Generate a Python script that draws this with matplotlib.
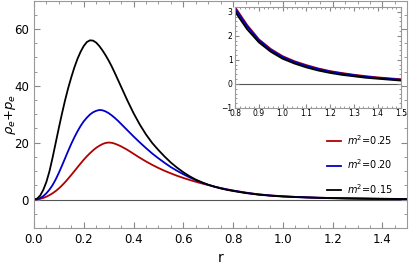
import matplotlib
matplotlib.use("Agg")
import matplotlib.pyplot as plt
from matplotlib.ticker import MultipleLocator

# values
r = [0.0, 0.0125, 0.025, 0.0375, 0.05, 0.0625, 0.075, 0.0875, 0.1, 0.1125,
     0.125, 0.1375, 0.15, 0.1625, 0.175, 0.1875, 0.2, 0.2125, 0.225, 0.2375,
     0.25, 0.2625, 0.275, 0.2875, 0.3, 0.3125, 0.325, 0.3375, 0.35,
     0.375, 0.4, 0.425, 0.45, 0.475, 0.5, 0.525, 0.55, 0.575, 0.6,
     0.625, 0.65, 0.675, 0.7, 0.725, 0.75, 0.775, 0.8,
     0.85, 0.9, 0.95, 1.0, 1.05, 1.1, 1.15, 1.2, 1.25, 1.3, 1.35, 1.4, 1.45, 1.5]

m025 = [0, 0.05, 0.25, 0.55, 1.0, 1.55, 2.2, 3.0, 3.9, 4.95,
        6.1, 7.35, 8.65, 10.0, 11.35, 12.7, 14.0, 15.2, 16.3, 17.3,
        18.2, 18.9, 19.5, 19.9, 20.05, 19.95, 19.65, 19.2, 18.7,
        17.5, 16.1, 14.7, 13.4, 12.2, 11.1, 10.1, 9.2, 8.35, 7.6,
        6.9, 6.25, 5.65, 5.1, 4.55, 4.05, 3.6, 3.18,
        2.45, 1.85, 1.45, 1.15, 0.94, 0.78, 0.64, 0.53, 0.45, 0.38, 0.32, 0.27, 0.23, 0.19]
m020 = [0, 0.1, 0.5, 1.2, 2.2, 3.5, 5.1, 7.1, 9.4, 11.9,
        14.5, 17.1, 19.6, 21.9, 24.0, 25.9, 27.5, 28.8, 29.9, 30.7,
        31.2, 31.5, 31.4, 31.0, 30.4, 29.6, 28.7, 27.7, 26.6,
        24.4, 22.2, 20.1, 18.1, 16.2, 14.5, 12.9, 11.4, 10.1, 8.9,
        7.8, 6.85, 5.95, 5.2, 4.55, 4.0, 3.52, 3.12,
        2.4, 1.81, 1.41, 1.12, 0.91, 0.75, 0.62, 0.51, 0.43, 0.36, 0.30, 0.25, 0.21, 0.17]
m015 = [0, 0.3, 1.4, 3.4, 6.2, 10.0, 14.8, 20.0, 25.2, 30.2,
        34.9, 39.2, 43.0, 46.5, 49.5, 52.0, 54.0, 55.4, 56.0, 55.9,
        55.2, 54.0, 52.5, 50.8, 48.9, 46.8, 44.5, 42.1, 39.7,
        34.9, 30.4, 26.4, 22.9, 19.9, 17.4, 15.1, 13.0, 11.2, 9.6,
        8.2, 7.0, 6.05, 5.2, 4.5, 3.9, 3.42, 3.0,
        2.28, 1.73, 1.34, 1.05, 0.85, 0.69, 0.56, 0.46, 0.38, 0.32, 0.26, 0.22, 0.18, 0.14]

labels = ["$m^2$=0.25", "$m^2$=0.20", "$m^2$=0.15"]
colors = ["#b00000", "#0000c8", "black"]
series = [m025, m020, m015]

fig = plt.figure(figsize=(4.09, 2.66), dpi=100)
ax = fig.add_axes([0.083, 0.143, 0.913, 0.855])

for y, c, lab in zip(series, colors, labels):
    ax.plot(r, y, color=c, lw=1.3, label=lab)
ax.axhline(0, color="#555555", lw=0.8, zorder=0)

ax.set_xlim(0, 1.5)
ax.set_ylim(-10, 70)
ax.xaxis.set_major_locator(MultipleLocator(0.2))
ax.xaxis.set_minor_locator(MultipleLocator(0.05))
ax.yaxis.set_major_locator(MultipleLocator(20))
ax.yaxis.set_minor_locator(MultipleLocator(5))
ax.tick_params(which="both", direction="in", top=True, right=True,
               color="#888888", labelsize=8.5)
ax.tick_params(which="major", length=4)
ax.tick_params(which="minor", length=2)
for s in ax.spines.values():
    s.set_color("#999999")
ax.set_xlabel("r", fontsize=10)
ax.set_ylabel(r"$\rho_e$+$p_e$", fontsize=9.5)
ax.yaxis.set_label_coords(-0.044, 0.5)

leg = ax.legend(loc="center right", bbox_to_anchor=(0.985, 0.28), frameon=False,
                fontsize=7, handlelength=1.5, handletextpad=0.6, labelspacing=1.1)

# inset
ins = fig.add_axes([0.575, 0.594, 0.406, 0.38])
for y, c in zip(series, colors):
    ins.plot(r, y, color=c, lw=1.4)
ins.axhline(0, color="#555555", lw=0.8, zorder=0)
ins.set_xlim(0.8, 1.5)
ins.set_ylim(-1, 3.2)
ins.xaxis.set_major_locator(MultipleLocator(0.1))
ins.xaxis.set_minor_locator(MultipleLocator(0.02))
ins.yaxis.set_major_locator(MultipleLocator(1))
ins.yaxis.set_minor_locator(MultipleLocator(0.2))
ins.tick_params(which="both", direction="in", top=True, right=True,
                color="#888888", labelsize=5.5)
ins.tick_params(axis="x", pad=1.0)
ins.tick_params(axis="y", pad=1.8)
ins.tick_params(which="major", length=3)
ins.tick_params(which="minor", length=1.5)
for s in ins.spines.values():
    s.set_color("#999999")

fig.savefig("out.png", dpi=100)
